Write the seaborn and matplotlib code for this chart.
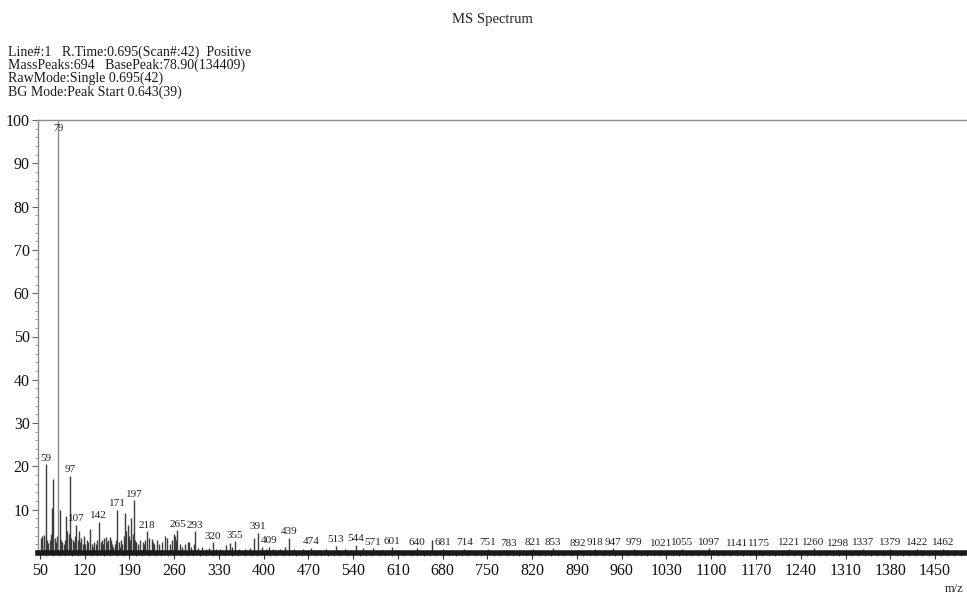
import matplotlib
matplotlib.use("Agg")
import matplotlib.pyplot as plt
from matplotlib.ticker import MultipleLocator
import seaborn as sns
import pandas as pd

# ---- spectrum data (m/z, relative intensity %) ----
title = "MS Spectrum"
header_lines = [
    "Line#:1   R.Time:0.695(Scan#:42)  Positive",
    "MassPeaks:694   BasePeak:78.90(134409)",
    "RawMode:Single 0.695(42)",
    "BG Mode:Peak Start 0.643(39)",
]

labeled_mz = [59, 79, 97, 107, 142, 171, 197, 218, 265, 293, 320, 355, 391, 409,
              439, 474, 513, 544, 571, 601, 640, 681, 714, 751, 783, 821, 853,
              892, 918, 947, 979, 1021, 1055, 1097, 1141, 1175, 1221, 1260,
              1298, 1337, 1379, 1422, 1462]
labeled_int = [20.5, 100.0, 17.8, 6.5, 7.2, 10.0, 12.2, 5.0, 5.2, 5.0, 2.5, 2.7,
               4.6, 1.4, 3.5, 1.2, 1.6, 1.9, 1.1, 1.3, 1.1, 0.9, 1.0, 0.9, 0.8,
               1.0, 1.1, 0.8, 0.9, 1.1, 0.9, 0.8, 0.9, 1.1, 0.8, 0.8, 1.0, 1.1,
               0.7, 0.9, 0.9, 1.0, 1.0]

other_mz = [52, 54, 56, 57, 61, 63, 65, 67, 69, 71, 73, 75, 77, 81, 83, 85, 87,
            89, 91, 93, 95, 99, 101, 103, 105, 109, 111, 113, 115, 117, 119, 121,
            123, 125, 129, 131, 133, 135, 137, 139, 145, 147, 149, 151, 153, 155,
            157, 159, 161, 163, 165, 167, 169, 173, 175, 177, 179, 181, 183, 185,
            187, 189, 191, 193, 195, 199, 201, 203, 207, 211, 213, 215, 221, 225,
            227, 229, 233, 237, 241, 245, 249, 253, 257, 259, 261, 263, 269, 273,
            277, 281, 283, 287, 291, 297, 303, 309, 315, 325, 331, 341, 347, 351,
            361, 371, 379, 385, 397, 403, 415, 425, 433, 447, 461, 482, 497, 527,
            556, 585, 618, 663]
other_int = [3.5, 4.0, 3.8, 4.2, 3.0, 2.2, 3.0, 4.5, 10.5, 17.0, 3.5, 2.5, 4.0,
             10.0, 3.0, 2.5, 2.0, 3.0, 8.5, 5.0, 4.5, 3.5, 3.0, 2.5, 4.0, 3.0,
             5.0, 2.5, 3.5, 2.0, 4.0, 2.0, 3.0, 2.5, 5.5, 2.0, 1.5, 2.5, 2.0,
             3.0, 2.5, 3.0, 2.0, 3.5, 3.8, 2.5, 3.0, 3.8, 3.0, 2.0, 1.5, 2.0,
             3.0, 2.5, 1.5, 3.0, 2.0, 4.0, 9.3, 5.0, 6.5, 4.0, 3.0, 8.0, 4.5,
             3.0, 2.5, 2.0, 3.0, 2.5, 2.0, 3.0, 3.5, 3.2, 2.5, 2.0, 3.0, 2.0,
             2.5, 4.0, 3.5, 2.0, 3.0, 4.5, 4.0, 3.0, 2.0, 1.5, 2.0, 2.5, 2.5,
             1.5, 2.0, 1.2, 1.5, 1.0, 1.2, 1.0, 1.0, 1.8, 2.2, 1.5, 1.0, 1.0,
             1.2, 3.5, 1.5, 1.0, 1.0, 1.0, 1.5, 1.0, 1.0, 0.8, 1.0, 1.0, 1.2,
             0.8, 0.8, 3.0]

x_ticks = list(range(50, 1451, 70))
y_ticks = list(range(10, 101, 10))

peaks = pd.DataFrame({
    "mz": labeled_mz + other_mz,
    "intensity": labeled_int + other_int,
})

# ---- styling ----
sns.set_theme(style="ticks")
plt.rcParams["font.family"] = ["Liberation Serif", "DejaVu Serif"]

W, H = 967, 597
fig = plt.figure(figsize=(W / 100, H / 100), dpi=100)
ax = fig.add_axes([38 / W, 1 - 553 / H, (W - 38) / W, (553 - 120) / H])

base = peaks["intensity"] >= 99
ax.vlines(peaks.loc[~base, "mz"], 0, peaks.loc[~base, "intensity"],
          color="#3c3c3c", linewidth=1.0)
ax.vlines(peaks.loc[base, "mz"], 0, peaks.loc[base, "intensity"],
          color="#8a8a8a", linewidth=1.0)

for mz, inten in zip(labeled_mz, labeled_int):
    if inten >= 99:
        ax.text(mz, inten - 2.0, str(mz), ha="center", va="center",
                fontsize=7.5, color="#222222")
    else:
        ax.annotate(str(mz), (mz, inten), xytext=(0, 1.2),
                    textcoords="offset points", ha="center", va="bottom",
                    fontsize=8, color="#222222")

ax.set_xlim(47, 1500)
ax.set_ylim(0, 100)
ax.set_xticks(x_ticks)
ax.set_yticks(y_ticks)
ax.set_yticklabels([str(v) for v in y_ticks])
ax.xaxis.set_minor_locator(MultipleLocator(10))
ax.yaxis.set_minor_locator(MultipleLocator(2))

ax.tick_params(axis="x", which="major", length=4, width=0.8, color="#333333",
               labelsize=11.5, pad=3, labelcolor="#111111")
ax.tick_params(axis="x", which="minor", length=2.5, width=0.6, color="#555555")
ax.tick_params(axis="y", which="major", length=4, width=0.8, color="#666666",
               labelsize=11.5, pad=2, labelcolor="#111111")
ax.tick_params(axis="y", which="minor", length=2, width=0.6, color="#888888")

for side in ("top", "left"):
    ax.spines[side].set_color("#8c8c8c")
    ax.spines[side].set_linewidth(1.0)
ax.spines["right"].set_visible(False)
ax.spines["bottom"].set_color("#1a1a1a")
ax.spines["bottom"].set_linewidth(4.0)
ax.set_xlabel("")
ax.set_ylabel("")

# header block and title
fig.text(492 / W, 1 - 20 / H, title, ha="center", va="center", fontsize=10.5,
         color="#222222")
for i, line in enumerate(header_lines):
    fig.text(8 / W, 1 - (52 + 13.3 * i) / H, line, ha="left", va="center",
             fontsize=10, color="#1a1a1a")
fig.text(963 / W, 1 - 589 / H, "m/z", ha="right", va="center", fontsize=9,
         color="#222222")

fig.savefig("out.png", dpi=100)
